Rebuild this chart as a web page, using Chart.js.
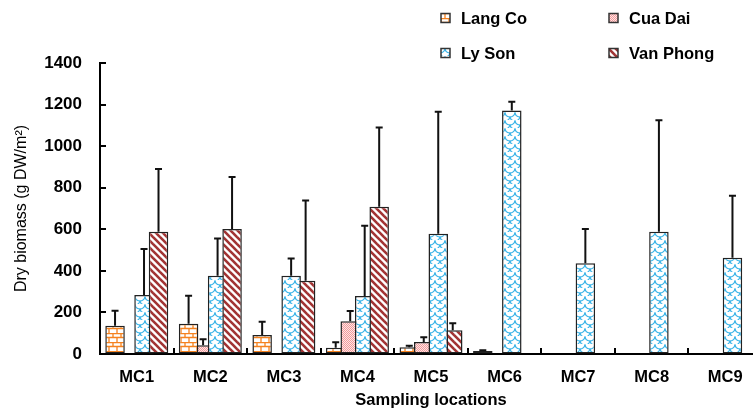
<!DOCTYPE html>
<html>
<head>
<meta charset="utf-8">
<script src="https://cdn.jsdelivr.net/npm/chart.js@4"></script>
<style>
  html, body { margin: 0; padding: 0; background: #fff; overflow: hidden; }
  #wrap { width: 753px; height: 412px; overflow: hidden; }
</style>
</head>
<body>
<div id="wrap"><canvas id="chart" width="762" height="412"></canvas></div>
<script>
// data
const sites = ['MC1', 'MC2', 'MC3', 'MC4', 'MC5', 'MC6', 'MC7', 'MC8', 'MC9'];
const seriesNames = ['Lang Co', 'Cua Dai', 'Ly Son', 'Van Phong'];
const langCo = [136, 146, 91, 30, 32, 14, null, null, null];
const cuaDai = [null, 42, null, 157, 58, null, null, null, null];
const lySon = [284, 377, 377, 279, 579, 1172, 436, 588, 463];
const vanPhong = [588, 601, 353, 709, 114, null, null, null, null];
// upper error (sd)
const langCoErr = [72, 134, 64, 26, 8, 4, null, null, null];
const cuaDaiErr = [null, 29, null, 50, 22, null, null, null, null];
const lySonErr = [221, 179, 83, 338, 587, 42, 165, 536, 298];
const vanPhongErr = [302, 250, 385, 381, 34, null, null, null, null];
const yTicks = [0, 200, 400, 600, 800, 1000, 1200, 1400];

const FONT = "'Liberation Sans', Arial, sans-serif";

function makeTile(w, h, draw) {
    const c = document.createElement('canvas');
    c.width = w; c.height = h;
    const g = c.getContext('2d');
    draw(g, w, h);
    return document.getElementById('chart').getContext('2d').createPattern(c, 'repeat');
}

// brick
const brick = makeTile(8, 9, (g, w, h) => {
    g.fillStyle = '#fff'; g.fillRect(0, 0, w, h);
    g.strokeStyle = '#f5821f'; g.lineWidth = 1.3;
    g.beginPath();
    g.moveTo(0, 0.5); g.lineTo(w, 0.5);
    g.moveTo(0, 4.5); g.lineTo(w, 4.5);
    g.moveTo(1, 0); g.lineTo(1, 4.5);
    g.moveTo(5, 4.5); g.lineTo(5, h);
    g.stroke();
});
// fine pink dots
const dots = makeTile(2, 2, (g) => {
    g.fillStyle = '#fde6e6'; g.fillRect(0, 0, 2, 2);
    g.fillStyle = '#f39a9a'; g.fillRect(0, 0, 1, 1); g.fillRect(1, 1, 1, 1);
});
// scales / waves
const waves = makeTile(10, 8, (g) => {
    g.fillStyle = '#fff'; g.fillRect(0, 0, 10, 8);
    g.strokeStyle = '#3ab4e8'; g.lineWidth = 1.2;
    [[0, 0], [10, 0], [5, 4], [0, 8], [10, 8]].forEach(([cx, cy]) => {
        g.beginPath(); g.arc(cx, cy, 5, 0.1, Math.PI - 0.1); g.stroke();
    });
});
// diagonal stripes "\"
const stripes = makeTile(7, 7, (g) => {
    g.fillStyle = '#fff'; g.fillRect(0, 0, 7, 7);
    g.strokeStyle = '#a23434'; g.lineWidth = 2.6;
    [-7, 0, 7].forEach(o => {
        g.beginPath(); g.moveTo(o - 1, -1); g.lineTo(o + 8, 8); g.stroke();
    });
});

const fills = [brick, dots, waves, stripes];
const values = [langCo, cuaDai, lySon, vanPhong];
const errors = [langCoErr, cuaDaiErr, lySonErr, vanPhongErr];

const datasets = seriesNames.map((name, i) => ({
    label: name,
    data: values[i],
    errors: errors[i],
    backgroundColor: fills[i],
    borderColor: '#222',
    borderWidth: 1.5,
    borderSkipped: false,
    categoryPercentage: 0.788,
    barPercentage: 1.345
}));

// bars overlap: draw shorter ones first so taller sit on top, then error bars
const barsAndErrors = {
    id: 'barsAndErrors',
    beforeDatasetsDraw(chart) {
        const ctx = chart.ctx;
        const yScale = chart.scales.y;
        const bars = [];
        chart.getSortedVisibleDatasetMetas().forEach(meta => {
            const ds = chart.data.datasets[meta.index];
            meta.data.forEach((el, j) => {
                if (ds.data[j] != null) bars.push({ el, ds, j });
            });
        });
        bars.sort((a, b) => b.el.y - a.el.y);
        bars.forEach(b => b.el.draw(ctx, chart.chartArea));

        ctx.save();
        ctx.strokeStyle = '#111';
        ctx.lineWidth = 2;
        bars.forEach(({ el, ds, j }) => {
            const e = ds.errors[j];
            if (!e) return;
            const top = yScale.getPixelForValue(ds.data[j] + e);
            ctx.beginPath();
            ctx.moveTo(el.x, el.y);
            ctx.lineTo(el.x, top);
            ctx.moveTo(el.x - 3.5, top);
            ctx.lineTo(el.x + 3.5, top);
            ctx.stroke();
        });
        ctx.restore();
        return false;
    }
};

// inward tick marks and the 2x2 legend
const extras = {
    id: 'extras',
    afterDraw(chart) {
        const ctx = chart.ctx;
        const { x, y } = chart.scales;
        const area = chart.chartArea;
        ctx.save();
        ctx.strokeStyle = '#000';
        ctx.lineWidth = 2;
        ctx.beginPath();
        yTicks.forEach(v => {
            const py = Math.round(y.getPixelForValue(v));
            ctx.moveTo(area.left, py);
            ctx.lineTo(area.left + 6, py);
        });
        for (let i = 1; i < sites.length; i++) {
            const px = Math.round((x.getPixelForValue(i - 1) + x.getPixelForValue(i)) / 2);
            ctx.moveTo(px, area.bottom);
            ctx.lineTo(px, area.bottom - 6);
        }
        ctx.stroke();

        const colX = [441, 609];
        const rowY = [18, 53];
        ctx.font = 'bold 16.5px ' + FONT;
        ctx.textBaseline = 'middle';
        ctx.fillStyle = '#000';
        chart.data.datasets.forEach((ds, i) => {
            const bx = colX[i % 2], by = rowY[Math.floor(i / 2)];
            ctx.fillStyle = ds.backgroundColor;
            ctx.fillRect(bx, by - 4.5, 9, 9);
            ctx.strokeStyle = '#333';
            ctx.lineWidth = 1.5;
            ctx.strokeRect(bx, by - 4.5, 9, 9);
            ctx.fillStyle = '#000';
            ctx.fillText(ds.label, bx + 20, by + 1);
        });
        ctx.restore();
    }
};

new Chart(document.getElementById('chart'), {
    type: 'bar',
    data: { labels: sites, datasets },
    plugins: [barsAndErrors, extras],
    options: {
        responsive: false,
        animation: false,
        layout: { padding: { top: 63, left: 0, right: 0, bottom: 0 } },
        plugins: {
            legend: { display: false },
            tooltip: { enabled: false }
        },
        scales: {
            x: {
                offset: true,
                grid: { display: true, drawOnChartArea: false, drawTicks: false },
                border: { display: true, color: '#000', width: 2 },
                ticks: {
                    color: '#000', padding: 14, maxRotation: 0, autoSkip: false,
                    font: { family: FONT, size: 16.5, weight: 'bold' }
                },
                title: {
                    display: true, text: 'Sampling locations', color: '#000',
                    font: { family: FONT, size: 16.5, weight: 'bold' },
                    padding: { top: 0, bottom: 2 }
                },
                afterFit(s) { s.height = 58; }
            },
            y: {
                min: 0,
                max: 1400,
                grid: { display: true, drawOnChartArea: false, drawTicks: false },
                border: { display: true, color: '#000', width: 2 },
                ticks: {
                    stepSize: 200, color: '#000', padding: 18,
                    font: { family: FONT, size: 17, weight: 'bold' },
                    callback: v => String(v)
                },
                afterBuildTicks(s) { s.ticks = yTicks.map(v => ({ value: v })); },
                title: {
                    display: true, text: 'Dry biomass (g DW/m²)', color: '#000',
                    font: { family: FONT, size: 16, weight: 'normal' },
                    padding: { top: 12, bottom: 0 }
                },
                afterFit(s) { s.width = 100; }
            }
        }
    }
});
</script>
</body>
</html>
